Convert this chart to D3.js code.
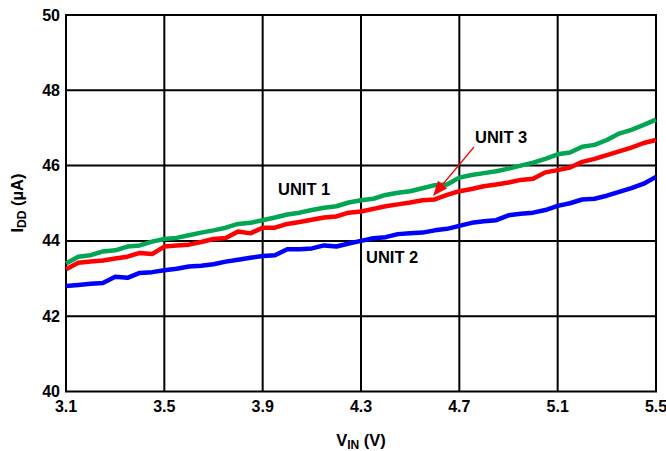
<!DOCTYPE html>
<html><head><meta charset="utf-8">
<script src="https://cdn.jsdelivr.net/npm/d3@7"></script>
<style>body{margin:0;background:#fff}svg{display:block}text{font-family:"Liberation Sans",Arial,sans-serif;font-weight:bold}</style>
</head><body><svg id="c" width="666" height="451"></svg>
<script>
const vin = [3.10,3.15,3.20,3.25,3.30,3.35,3.40,3.45,3.50,3.55,3.60,3.65,3.70,3.75,3.80,3.85,3.90,3.95,4.00,4.05,4.10,4.15,4.20,4.25,4.30,4.35,4.40,4.45,4.50,4.55,4.60,4.65,4.70,4.75,4.80,4.85,4.90,4.95,5.00,5.05,5.10,5.15,5.20,5.25,5.30,5.35,5.40,5.45,5.50];
const unit1 = [43.40,43.58,43.62,43.72,43.75,43.85,43.88,43.98,44.05,44.08,44.15,44.22,44.28,44.35,44.45,44.48,44.55,44.62,44.70,44.75,44.82,44.88,44.92,45.02,45.08,45.12,45.22,45.28,45.32,45.40,45.48,45.50,45.68,45.75,45.80,45.85,45.92,46.00,46.08,46.18,46.30,46.35,46.50,46.55,46.68,46.85,46.95,47.08,47.22];
const unit2 = [42.80,42.83,42.86,42.88,43.05,43.02,43.15,43.17,43.22,43.26,43.32,43.34,43.38,43.45,43.50,43.55,43.60,43.62,43.78,43.78,43.80,43.88,43.85,43.93,44.00,44.07,44.10,44.18,44.20,44.22,44.28,44.32,44.40,44.48,44.52,44.55,44.68,44.72,44.75,44.82,44.93,45.00,45.10,45.12,45.20,45.30,45.40,45.52,45.70];
const unit3 = [43.25,43.42,43.45,43.48,43.53,43.58,43.68,43.65,43.85,43.88,43.90,43.97,44.05,44.08,44.25,44.20,44.35,44.35,44.45,44.50,44.56,44.62,44.65,44.75,44.78,44.85,44.92,44.97,45.02,45.08,45.10,45.22,45.32,45.38,45.45,45.50,45.55,45.62,45.65,45.82,45.88,45.95,46.10,46.18,46.28,46.38,46.48,46.60,46.68];
const xTicks = [3.1,3.5,3.9,4.3,4.7,5.1,5.5];
const yTicks = [40,42,44,46,48,50];

const svg = d3.select("#c");
const L=66, R=656, T=15, B=391.5;
const x = d3.scaleLinear().domain([3.1,5.5]).range([L,R]);
const y = d3.scaleLinear().domain([40,50]).range([B,T]);

// grid
const g = svg.append("g");
g.selectAll(".vx").data(xTicks).enter().append("line")
 .attr("x1",d=>x(d)).attr("x2",d=>x(d)).attr("y1",T).attr("y2",B)
 .attr("stroke","#000").attr("stroke-width",2);
g.selectAll(".hy").data(yTicks).enter().append("line")
 .attr("y1",d=>y(d)).attr("y2",d=>y(d)).attr("x1",L-1).attr("x2",R+1)
 .attr("stroke","#000").attr("stroke-width",2);

// tick labels
svg.selectAll(".xl").data(xTicks).enter().append("text")
 .attr("x",d=>x(d)).attr("y",412).attr("text-anchor","middle")
 .attr("font-size",16).text(d=>d.toFixed(1));
svg.selectAll(".yl").data(yTicks).enter().append("text")
 .attr("x",60).attr("y",d=>y(d)+5.5).attr("text-anchor","end")
 .attr("font-size",16).text(d=>d);

// lines
const line = d3.line().x((d,i)=>x(vin[i])).y(d=>y(d));
const series = [{v:unit2,c:"#0000ff"},{v:unit1,c:"#00a651"},{v:unit3,c:"#ff0000"}];
svg.selectAll(".ln").data(series).enter().append("path")
 .attr("d",d=>line(d.v)).attr("fill","none").attr("stroke",d=>d.c)
 .attr("stroke-width",4.5).attr("stroke-linejoin","round");

// annotations
svg.append("text").attr("x",278).attr("y",195).attr("font-size",16.5).text("UNIT 1");
svg.append("text").attr("x",366).attr("y",263).attr("font-size",16.5).text("UNIT 2");
svg.append("text").attr("x",475).attr("y",143).attr("font-size",16.5).text("UNIT 3");

// arrow
const ax1=474, ay1=147, ax2=433, ay2=196;
const ang=Math.atan2(ay2-ay1, ax2-ax1);
const hl=15, hw=6;
const bx=ax2-hl*Math.cos(ang), by=ay2-hl*Math.sin(ang);
svg.append("line").attr("x1",ax1).attr("y1",ay1).attr("x2",bx).attr("y2",by)
 .attr("stroke","#ff0000").attr("stroke-width",1.2);
const px=-Math.sin(ang), py=Math.cos(ang);
svg.append("path").attr("d",`M${ax2},${ay2}L${bx+hw*px},${by+hw*py}L${bx-hw*px},${by-hw*py}Z`).attr("fill","#ff0000");

// axis titles
const xt = svg.append("text").attr("x",361).attr("y",446).attr("text-anchor","middle").attr("font-size",16.5);
xt.append("tspan").text("V");
xt.append("tspan").attr("font-size",12).attr("dy",3).text("IN");
xt.append("tspan").attr("dy",-3).text(" (V)");

const yt = svg.append("text").attr("transform","translate(23,203) rotate(-90)").attr("text-anchor","middle").attr("font-size",16.5);
yt.append("tspan").text("I");
yt.append("tspan").attr("font-size",12).attr("dy",3).text("DD");
yt.append("tspan").attr("dy",-3).text(" (µA)");
</script></body></html>
